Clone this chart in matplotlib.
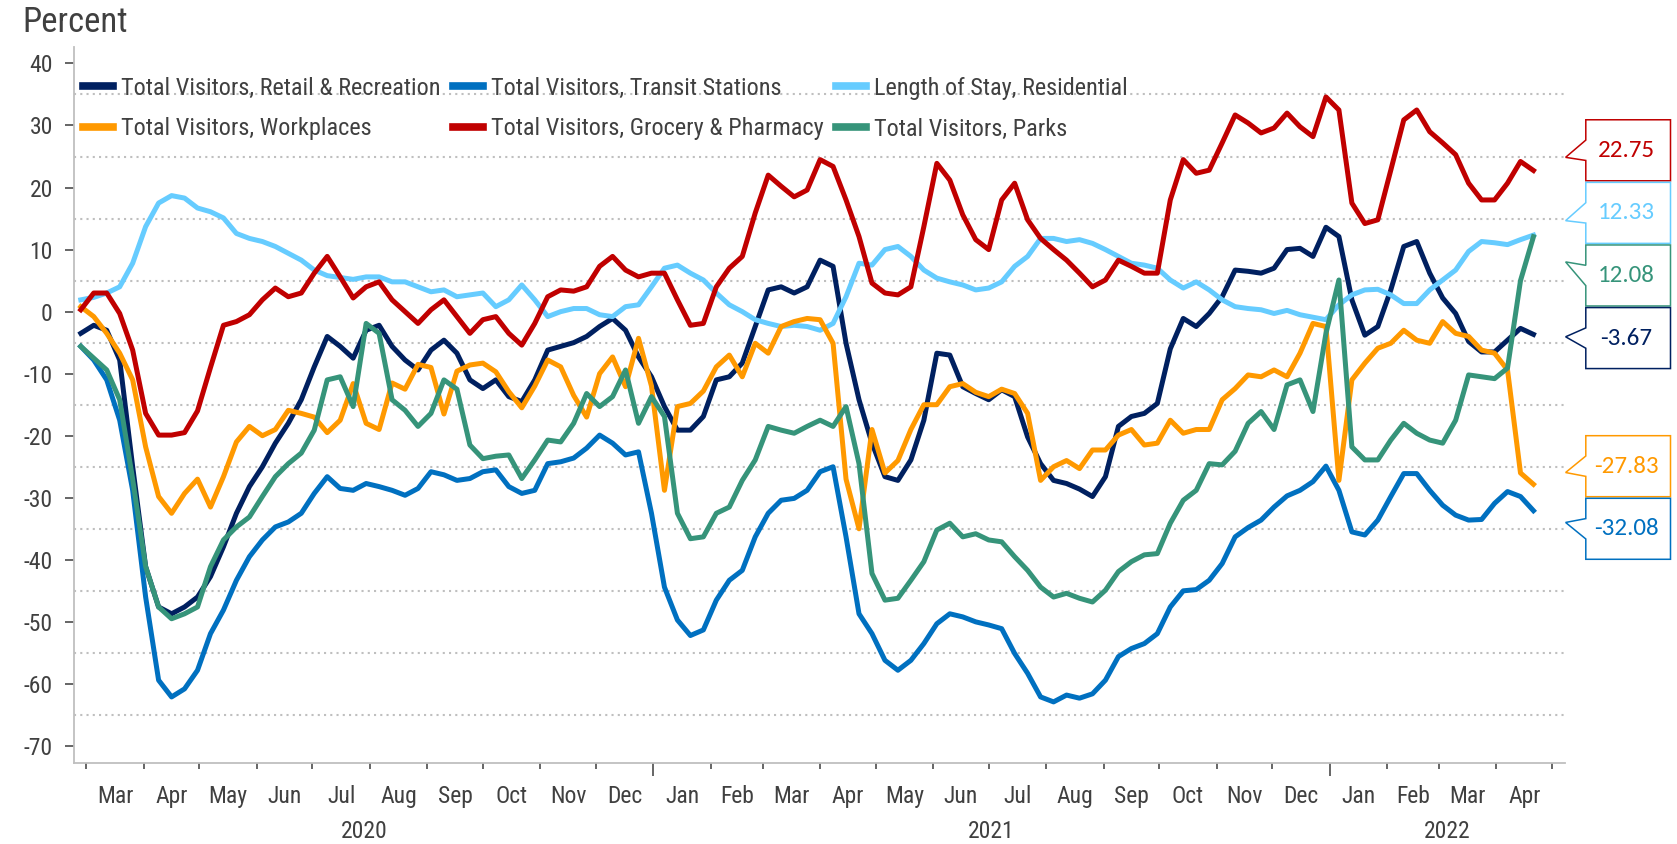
import matplotlib
matplotlib.use('Agg')
import matplotlib.pyplot as plt
import matplotlib.dates as mdates
from matplotlib import font_manager
from matplotlib.patches import Polygon
from matplotlib.ticker import MultipleLocator, NullFormatter
import numpy as np
import pandas as pd

# weekly readings of the 7-day averages, first point 2020-02-27
dates = pd.date_range('2020-02-27', periods=113, freq='7D')

retail = [-3.5, -2.2, -3.0, -7.8, -25, -41.1, -47.6, -48.7, -47.6, -46,
          -42.7, -37.9, -32.5, -28.2, -25, -21.2, -18, -14.2, -8.9, -4.0,
          -5.6, -7.5, -3.0, -2.2, -5.6, -7.8, -9.4, -6.2, -4.6, -6.7,
          -11, -12.4, -11, -13.7, -14.5, -11, -6.2, -5.6, -5,
          -4.0, -2.4, -1.1, -3.0, -7.3, -10.5, -15.3, -19.1, -19.1, -16.9,
          -11, -10.5, -8.3, -2.4, 3.5, 4.0, 3.0, 4.0, 8.3, 7.3,
          -5.1, -14.2, -21.2, -26.6, -27.2, -23.9, -17.5, -6.7, -7.0, -12.1,
          -13.2, -14.2, -12.6, -13.7, -20.2, -24.5, -27.2, -27.7, -28.6,
          -29.8, -26.6, -18.5, -16.9, -16.4, -14.8, -6, -1.1, -2.4, -0.3,
          2.4, 6.7, 6.5, 6.2, 7.0, 10, 10.2, 8.9, 13.6, 12.1,
          1.9, -3.8, -2.4, 3.5, 10.5, 11.3, 6.2, 2.2, -0.3, -4.8,
          -6.5, -6.5, -4.6, -2.7, -3.67]

transit = [-5.6, -7.8, -11, -17.5, -28.8, -46, -59.4, -62.1, -60.8, -57.8,
           -51.9, -48.1, -43.3, -39.5, -36.8, -34.7, -33.9, -32.5, -29.3, -26.6,
           -28.5, -28.8, -27.7, -28.2, -28.8, -29.6, -28.5, -25.8, -26.3, -27.2,
           -26.9, -25.8, -25.5, -28.2, -29.3, -28.8, -24.5, -24.2, -23.6,
           -22, -19.9, -21.2, -23.1, -22.6, -32.5, -44.4, -49.7, -52.2, -51.3,
           -46.5, -43.3, -41.7, -36.3, -32.5, -30.4, -30.1, -28.8, -25.8, -25.0,
           -36.3, -48.7, -51.9, -56.2, -57.8, -56.2, -53.5, -50.3, -48.7, -49.2,
           -50, -50.5, -51.1, -55.1, -58.3, -62.1, -62.9, -61.8, -62.3,
           -61.6, -59.4, -55.6, -54.3, -53.5, -51.9, -47.6, -45, -44.8, -43.3,
           -40.6, -36.3, -34.8, -33.6, -31.5, -29.7, -28.8, -27.4, -24.9, -28.8,
           -35.5, -36, -33.6, -29.8, -26.1, -26.1, -28.8, -31.2, -32.8, -33.6,
           -33.5, -30.9, -29, -29.8, -32.08]

residential = [1.9, 2.3, 3.0, 4.0, 7.8, 13.7, 17.5, 18.7, 18.3, 16.7,
               16.1, 15.1, 12.6, 11.8, 11.3, 10.5, 9.4, 8.3, 6.7, 5.8,
               5.5, 5.2, 5.6, 5.6, 4.8, 4.8, 4.0, 3.2, 3.5, 2.4,
               2.7, 3.0, 0.8, 1.9, 4.3, 1.9, -0.8, 0, 0.5,
               0.5, -0.5, -0.8, 0.8, 1.1, 4.0, 7.0, 7.5, 6.2, 5.1,
               3.0, 1.1, 0, -1.3, -1.9, -2.4, -2.2, -2.4, -3.0, -1.9,
               2.4, 7.8, 7.5, 10.0, 10.5, 8.9, 6.7, 5.4, 4.8, 4.3,
               3.5, 3.8, 4.8, 7.3, 8.9, 11.8, 11.8, 11.3, 11.6,
               11.0, 10, 8.9, 7.8, 7.5, 7.0, 5.1, 3.8, 4.8, 3.5,
               1.9, 0.8, 0.5, 0.3, -0.3, 0.2, -0.5, -0.9, -1.3, 1.1,
               2.7, 3.5, 3.6, 2.7, 1.3, 1.3, 3.5, 5.1, 6.7, 9.7,
               11.3, 11.1, 10.8, 11.6, 12.33]

workplaces = [0.8, -0.8, -3.5, -6.7, -11, -21.8, -29.8, -32.5, -29.3, -27,
              -31.5, -26.6, -21, -18.5, -20, -19, -15.9, -16.4, -17, -19.5,
              -17.5, -11.6, -18, -19, -11.5, -12.5, -8.5, -9.0, -16.5, -9.6,
              -8.6, -8.3, -9.7, -12.9, -15.5, -12, -7.8, -8.9, -13.5,
              -17, -10, -7.3, -12.1, -4.3, -12, -28.8, -15.3, -14.8, -12.8,
              -8.9, -7.0, -10.5, -5.1, -6.7, -2.4, -1.6, -1.1, -1.3, -5.1,
              -27, -35, -19, -26, -24, -19, -15, -15, -12.1, -11.6,
              -13, -13.7, -12.5, -13.2, -16.4, -27.2, -25, -24, -25.3,
              -22.3, -22.3, -19.9, -19, -21.5, -21.2, -17.5, -19.6, -19, -19,
              -14.2, -12.4, -10.2, -10.5, -9.4, -10.5, -6.7, -1.9, -2.4, -27.2,
              -11, -8.3, -5.9, -5.1, -3.0, -4.6, -5.1, -1.6, -3.5, -4.0,
              -6.2, -6.7, -9.4, -26, -27.83]

grocery = [0.3, 3.0, 3.0, -0.3, -6.2, -16.4, -19.9, -19.9, -19.5, -16,
           -9, -2.2, -1.6, -0.5, 1.9, 3.8, 2.4, 3.0, 6.2, 8.9,
           5.6, 2.2, 4.0, 4.8, 1.9, 0, -1.9, 0.3, 1.9, -0.8,
           -3.5, -1.3, -0.8, -3.5, -5.4, -1.9, 2.4, 3.5, 3.3,
           4.0, 7.3, 8.9, 6.7, 5.6, 6.2, 6.2, 1.9, -2.2, -1.9,
           4.0, 7.0, 8.9, 15.9, 22.0, 20.2, 18.5, 19.6, 24.5, 23.4,
           18.0, 12.1, 4.6, 3.0, 2.7, 4.0, 13.7, 23.9, 21.2, 15.6,
           11.6, 10.0, 18.0, 20.7, 14.8, 11.8, 10.0, 8.3, 6.2,
           4.0, 5.1, 8.3, 7.3, 6.2, 6.2, 18.0, 24.5, 22.3, 22.8,
           27.2, 31.7, 30.4, 28.8, 29.6, 32.0, 29.8, 28.2, 34.6, 32.5,
           17.5, 14.2, 14.8, 22.8, 30.9, 32.5, 29.0, 27.2, 25.3, 20.7,
           18.0, 18.0, 20.7, 24.2, 22.75]

parks = [-5.6, -7.5, -9.4, -14.2, -27, -41.1, -47.6, -49.5, -48.7, -47.6,
         -41.1, -36.8, -34.7, -33.1, -29.8, -26.6, -24.5, -22.8, -19.1, -11.0,
         -10.5, -15.3, -1.9, -3.5, -14.2, -15.9, -18.5, -16.4, -11, -12.5,
         -21.5, -23.7, -23.3, -23.1, -26.9, -23.9, -20.7, -21, -18,
         -13.2, -15.3, -13.7, -9.4, -18, -13.7, -16.9, -32.5, -36.6, -36.3,
         -32.5, -31.5, -27.2, -23.9, -18.5, -19.1, -19.6, -18.5, -17.5, -18.5,
         -15.3, -24.5, -42.2, -46.5, -46.2, -43.3, -40.3, -35.2, -34.1, -36.3,
         -35.8, -36.8, -37.1, -39.5, -41.7, -44.4, -46, -45.4, -46.2,
         -46.8, -44.9, -41.9, -40.3, -39.2, -39, -34.1, -30.4, -28.8, -24.5,
         -24.7, -22.5, -18, -16.1, -19, -11.8, -11, -16.1, -3.5, 5.1,
         -21.8, -23.9, -23.9, -20.7, -18, -19.6, -20.7, -21.2, -17.5, -10.2,
         -10.5, -10.8, -9.1, 5, 12.08]

series = [
    ('Total Visitors, Retail & Recreation', retail, '#002060'),
    ('Total Visitors, Transit Stations', transit, '#0070C0'),
    ('Length of Stay, Residential', residential, '#66CCFF'),
    ('Total Visitors, Workplaces', workplaces, '#FF9900'),
    ('Total Visitors, Grocery & Pharmacy', grocery, '#C00000'),
    ('Total Visitors, Parks', parks, '#36947A'),
]

# fonts: a narrow sans if there is one, else Liberation Sans a little smaller
names = {f.name for f in font_manager.fontManager.ttflist}
narrow = next((f for f in ['Liberation Sans Narrow', 'Roboto Condensed', 'Noto Sans Condensed']
               if f in names), None)
main_font = narrow or 'Liberation Sans'
scale = 1.0 if narrow else 0.89
box_font = next((f for f in ['Carlito', 'Lato', 'Open Sans'] if f in names), 'DejaVu Sans')
plt.rcParams['font.family'] = [main_font, 'DejaVu Sans']
plt.rcParams['axes.unicode_minus'] = False
grey = '#404040'

W, H = 1677, 844
fig = plt.figure(figsize=(W / 100, H / 100), dpi=100)
ax = fig.add_axes([74.3 / W, 1 - 762.7 / H, (1564.5 - 74.3) / W, (762.7 - 46.7) / H])

for label, vals, color in series:
    ax.plot(dates, vals, color=color, lw=3.6, label=label, solid_joinstyle='round')

ax.set_xlim(pd.Timestamp('2020-02-23 12:00'), pd.Timestamp('2022-05-07 18:00'))
ax.set_ylim(-72.7, 42.7)

for side in ['top', 'right']:
    ax.spines[side].set_visible(False)
for side in ['left', 'bottom']:
    ax.spines[side].set_color('#BFBFBF')
    ax.spines[side].set_linewidth(1.3)

# y axis: ticks every 10, dotted grid on the 5s in between
ax.set_yticks(np.arange(-70, 41, 10))
ax.yaxis.set_minor_locator(MultipleLocator(10, offset=5))
ax.grid(which='minor', axis='y', color='#BFBFBF', linestyle=(0, (1, 2)), linewidth=1.5)
ax.set_axisbelow(True)
ax.tick_params(axis='y', which='minor', length=0)
ax.tick_params(axis='y', which='major', length=6.5, width=1.3, color='#595959',
               pad=9, labelsize=17, labelcolor=grey)

# x axis: month ticks, longer ticks at year starts, labels in between
ax.xaxis.set_major_locator(mdates.YearLocator())
ax.xaxis.set_minor_locator(mdates.MonthLocator())
ax.xaxis.set_major_formatter(NullFormatter())
ax.tick_params(axis='x', which='major', length=9, width=1.3, color='#595959')
ax.tick_params(axis='x', which='minor', length=4, width=1.3, color='#595959')

months = pd.date_range('2020-03-01', '2022-05-01', freq='MS')
for m0, m1 in zip(months[:-1], months[1:]):
    ax.annotate(m0.strftime('%b'), xy=(m0 + (m1 - m0) / 2, 0), xycoords=('data', 'axes fraction'),
                xytext=(0, -29), textcoords='offset points', ha='center', va='baseline',
                fontsize=17 * (0.97 if not narrow else 1), color=grey)

x0, x1 = [mdates.num2date(v).replace(tzinfo=None) for v in ax.get_xlim()]
bounds = [pd.Timestamp(x0), pd.Timestamp('2021-01-01'), pd.Timestamp('2022-01-01'), pd.Timestamp(x1)]
for year, a, b in zip(['2020', '2021', '2022'], bounds[:-1], bounds[1:]):
    ax.annotate(year, xy=(a + (b - a) / 2, 0), xycoords=('data', 'axes fraction'),
                xytext=(0, -54.5), textcoords='offset points', ha='center', va='baseline',
                fontsize=17, color=grey)

fig.text(22 / W, 1 - 31.7 / H, 'Percent', ha='left', va='baseline',
         fontsize=25 * (0.92 if not narrow else 1), color=grey)

order = [0, 3, 1, 4, 2, 5]
handles, labels = ax.get_legend_handles_labels()
leg = ax.legend([handles[i] for i in order], [labels[i] for i in order], ncol=3,
                loc='upper left', bbox_to_anchor=(82.7 / W, 1 - 77 / H), bbox_transform=fig.transFigure,
                frameon=False, fontsize=17.5 * scale, borderpad=0, borderaxespad=0,
                handlelength=1.25 / scale, handletextpad=0.32 / scale, columnspacing=0.5 / scale,
                labelspacing=0.72)
for t in leg.get_texts():
    t.set_color(grey)
for h in leg.legend_handles:
    h.set_linewidth(5.5)

# value boxes on the right, stacked so they do not overlap
last_x = mdates.date2num(dates[-1])
items = []
for label, vals, color in series:
    ypx = H - ax.transData.transform((last_x, vals[-1]))[1]
    items.append((ypx, vals[-1], color))
items.sort()

gap = 62.6

def centers(group):
    m = np.mean([it[0] for it in group])
    n = len(group)
    return [m + (i - (n - 1) / 2) * gap for i in range(n)]

groups = [[it] for it in items]
merged = True
while merged:
    merged = False
    for i in range(len(groups) - 1):
        if centers(groups[i])[-1] + gap > centers(groups[i + 1])[0]:
            groups[i] = groups[i] + groups[i + 1]
            del groups[i + 1]
            merged = True
            break

bx0, bx1, tipx = 1585.8, 1670.5, 1565.6
for group in groups:
    for (ypx, val, color), c in zip(group, centers(group)):
        top, bot = c - gap / 2 + 0.8, c + gap / 2 - 0.8
        hgt = bot - top
        tip = c + 0.35 * (ypx - c)
        pts = [(bx0, top), (bx1, top), (bx1, bot), (bx0, bot),
               (bx0, top + 2 * hgt / 3), (tipx, tip), (bx0, top + hgt / 3)]
        pts = [(x / W, 1 - y / H) for x, y in pts]
        fig.add_artist(Polygon(pts, closed=True, transform=fig.transFigure,
                               facecolor='white', edgecolor=color, lw=1.1))
        fig.text((bx0 + bx1) / 2 / W - 2 / W, 1 - c / H, f'{val:.2f}', ha='center', va='center',
                 fontsize=18, color=color, family=[box_font, 'DejaVu Sans'])

fig.savefig('out.png', dpi=100)
